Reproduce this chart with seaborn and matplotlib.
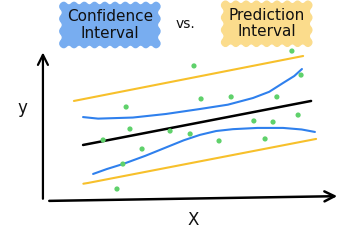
import matplotlib
matplotlib.use("Agg")
import matplotlib.pyplot as plt
import seaborn as sns

# ---- data (x 0..10, y 0..10) ----
pts_x = [8.37, 5.05, 8.68, 5.29, 6.31, 7.86, 2.75, 7.08, 7.73, 8.58,
         2.88, 4.24, 4.92, 1.97, 5.90, 7.46, 3.29, 2.64, 2.44]
pts_y = [9.61, 8.65, 8.06, 6.52, 6.65, 6.65, 6.00, 5.10, 5.03, 5.48,
         4.58, 4.45, 4.26, 3.87, 3.81, 3.94, 3.29, 2.32, 0.71]

fit_x = [1.29, 9.02]
fit_y = [3.55, 6.39]

pi_up_x = [0.98, 8.75]
pi_up_y = [6.39, 9.29]
pi_lo_x = [1.30, 1.46, 9.19]
pi_lo_y = [1.05, 1.10, 3.94]

ci_up_x = [1.29, 1.80, 2.98, 4.10, 5.25, 6.20, 7.05, 7.60, 8.07, 8.45, 8.71]
ci_up_y = [5.35, 5.25, 5.32, 5.55, 5.87, 6.15, 6.58, 6.98, 7.55, 8.00, 8.45]
ci_lo_x = [1.63, 2.10, 2.64, 3.40, 4.14, 4.70, 5.25, 5.80, 6.37, 7.20, 8.07, 8.70, 9.15]
ci_lo_y = [1.68, 2.00, 2.32, 2.85, 3.42, 3.85, 4.20, 4.45, 4.57, 4.65, 4.65, 4.55, 4.39]

title_left = "Confidence\nInterval"
title_mid = "vs."
title_right = "Prediction\nInterval"
x_label = "X"
y_label = "y"

GREEN = "#5fd16b"
BLUE = "#2f80ed"
YELLOW = "#f7c02b"

sns.set_theme(style="white")
plt.rcParams["font.family"] = ["DejaVu Sans"]

fig = plt.figure(figsize=(3.5, 2.5), dpi=100)
ax = fig.add_axes([45/350, 50/250, 295/350, 155/250])
ax.set_xlim(0, 10)
ax.set_ylim(0, 10)
ax.axis("off")


def line(xs, ys, color, lw=1.5):
    sns.lineplot(x=xs, y=ys, ax=ax, color=color, lw=lw, sort=False,
                 estimator=None, solid_capstyle="round")


line(pi_up_x, pi_up_y, YELLOW)
line(pi_lo_x, pi_lo_y, YELLOW)
line(ci_up_x, ci_up_y, BLUE)
line(ci_lo_x, ci_lo_y, BLUE)
line(fit_x, fit_y, "black", lw=1.8)

sns.scatterplot(x=pts_x, y=pts_y, ax=ax, color=GREEN, s=14,
                edgecolor="none", zorder=5)

# hand-drawn axes arrows
ax.annotate("", xy=(-0.07, 9.7), xytext=(-0.07, -0.1),
            xycoords="data", annotation_clip=False,
            arrowprops=dict(arrowstyle="->,head_length=0.6,head_width=0.3",
                            color="black", lw=1.6))
ax.annotate("", xy=(10.0, 0.25), xytext=(0.05, -0.06),
            xycoords="data", annotation_clip=False,
            arrowprops=dict(arrowstyle="->,head_length=0.6,head_width=0.3",
                            color="black", lw=1.8))

ax.text(-0.75, 5.94, y_label, fontsize=12, ha="center", va="center",
        clip_on=False, color="#111111")
ax.text(5.02, -1.29, x_label, fontsize=12, ha="center", va="center",
        clip_on=False, color="#111111")

fig.text(0.314, 0.90, title_left, fontsize=11, ha="center", va="center",
         linespacing=1.1, color="#111111",
         bbox=dict(boxstyle="roundtooth,pad=0.55,tooth_size=0.35",
                   fc="#78adf0", ec="#78adf0", lw=1))
fig.text(0.529, 0.905, title_mid, fontsize=10, ha="center", va="center",
         color="#111111")
fig.text(0.762, 0.905, title_right, fontsize=11, ha="center", va="center",
         linespacing=1.1, color="#111111",
         bbox=dict(boxstyle="roundtooth,pad=0.55,tooth_size=0.35",
                   fc="#fbdc8c", ec="#fbdc8c", lw=1))

fig.savefig("out.png", dpi=100)
